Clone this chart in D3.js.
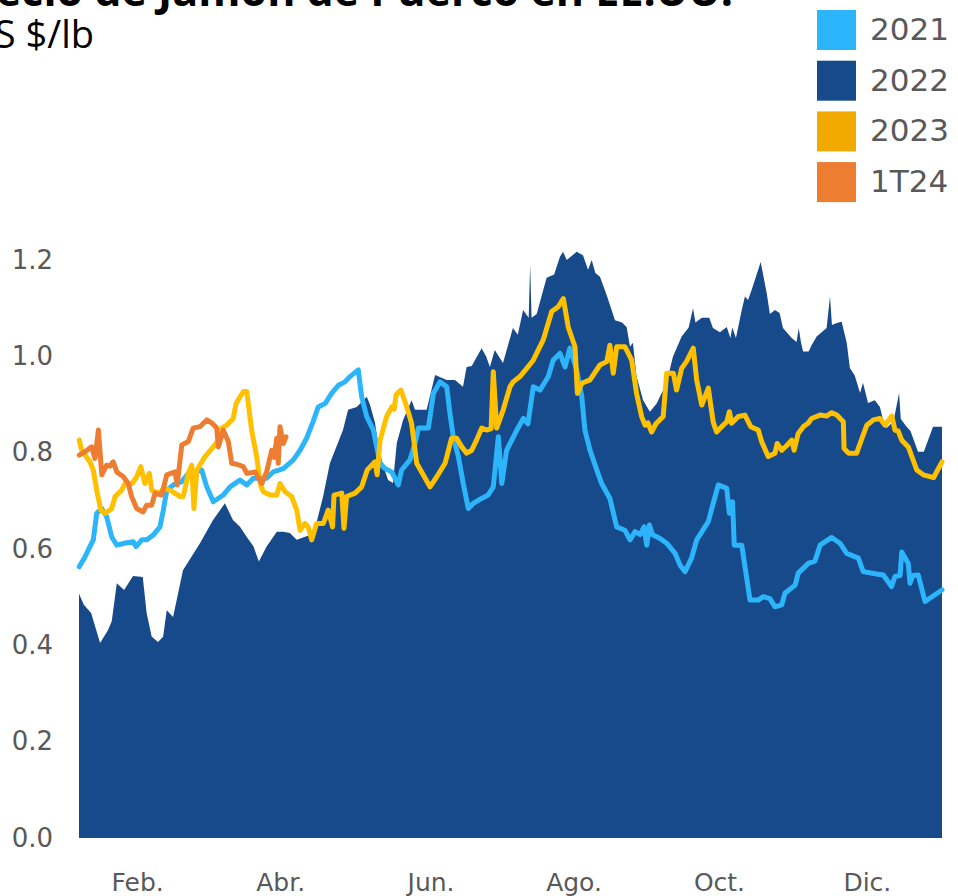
<!DOCTYPE html>
<html lang="es">
<head>
<meta charset="UTF-8">
<title>Precio de Jamón de Puerco en EE.UU.</title>
<script src="https://cdn.jsdelivr.net/npm/d3@7"></script>
<style>
  body { margin: 0; background: #fff; }
  svg { display: block; }
</style>
</head>
<body>
<div id="chart"></div>
<script>
const title = "Precio de Jamón de Puerco en EE.UU.";
const subtitle = "US $/lb";
const seriesNames = ["2021", "2022", "2023", "1T24"];
const legendColors = ["#2cb5fb", "#164a8a", "#f2aa00", "#ed7d31"];
const lineColors = ["#2cb5fb", "#164a8a", "#ffc000", "#ed7d31"];

// x = day of the year
const monthTicks = [32, 91, 153, 212, 272, 333];
const monthLabels = ["Feb.", "Abr.", "Jun.", "Ago.", "Oct.", "Dic."];
const yTicks = [0, 0.2, 0.4, 0.6, 0.8, 1.0, 1.2];

// [day, US$/lb]
const precio2021 = [[8.1,0.563],[10.5,0.584],[12.5,0.605],[13.9,0.619],[15.3,0.674],[17.4,0.684],[19.4,0.667],[21.5,0.625],[23.6,0.608],[27.7,0.613],[30.4,0.615],[31.5,0.605],[33.9,0.619],[36,0.619],[38.6,0.629],[41.4,0.646],[42.8,0.681],[44.2,0.722],[46.9,0.733],[50.4,0.74],[53.1,0.757],[56,0.76],[58.6,0.764],[60.7,0.729],[63.4,0.698],[67.5,0.712],[70.3,0.729],[74.4,0.743],[77.2,0.733],[79.9,0.747],[85.4,0.747],[88.1,0.76],[92.3,0.767],[96.4,0.785],[99.2,0.805],[101.9,0.83],[104.6,0.865],[106.7,0.895],[109.5,0.902],[112.2,0.923],[115,0.94],[117.7,0.947],[119.8,0.958],[123.2,0.972],[124.6,0.916],[126.7,0.875],[129.4,0.847],[132.2,0.778],[134.2,0.767],[137,0.76],[139.7,0.733],[141.1,0.764],[144.5,0.785],[146.6,0.819],[148,0.851],[152.1,0.851],[154.2,0.923],[156.9,0.947],[159.7,0.937],[161,0.882],[162.4,0.833],[164.5,0.792],[166.5,0.736],[168.6,0.684],[170.7,0.695],[174.1,0.705],[176.8,0.712],[178.9,0.729],[181,0.833],[182.4,0.736],[184.4,0.805],[188.6,0.847],[191.3,0.871],[193.2,0.86],[195.4,0.937],[198.2,0.93],[201.6,0.958],[203.6,0.992],[206.4,1.006],[208.5,0.978],[210.5,1.017],[213.3,0.972],[215.4,0.916],[216.7,0.847],[218.8,0.805],[221.6,0.764],[223.6,0.736],[227,0.705],[229.8,0.646],[233.2,0.639],[235.3,0.619],[237.4,0.636],[239.5,0.63],[241.1,0.646],[242.2,0.608],[243.3,0.65],[244.5,0.63],[247.7,0.622],[250.4,0.612],[253.9,0.591],[255.9,0.567],[258,0.553],[260.7,0.581],[262.8,0.619],[267.6,0.657],[270.4,0.709],[271.7,0.733],[275.2,0.726],[276.3,0.674],[277.6,0.698],[278.3,0.608],[281.4,0.608],[284.8,0.494],[288.2,0.494],[290.3,0.501],[293,0.497],[295.1,0.48],[297.9,0.484],[299.2,0.508],[303.4,0.525],[304.7,0.55],[308.8,0.57],[311.6,0.575],[313.7,0.608],[318.5,0.624],[321.9,0.612],[324.7,0.591],[329.5,0.581],[331.5,0.553],[337,0.548],[339.8,0.546],[343.2,0.522],[344.6,0.543],[346.7,0.545],[347.4,0.594],[350.1,0.57],[350.8,0.529],[352,0.545],[354.2,0.546],[357,0.491],[364,0.515]];

const precio2022 = [[8,0.507],[10,0.484],[13,0.467],[16.7,0.405],[20,0.432],[21.5,0.45],[23.6,0.529],[26.6,0.515],[30.3,0.544],[34.3,0.542],[35.9,0.467],[38,0.418],[40.6,0.407],[42.7,0.418],[44.2,0.473],[46.8,0.459],[48.3,0.494],[50.9,0.556],[57.9,0.612],[63.3,0.66],[68.2,0.695],[71.5,0.66],[74.4,0.646],[77.2,0.625],[80,0.605],[82.2,0.574],[85.4,0.605],[89.6,0.636],[92.2,0.636],[95,0.633],[97.8,0.619],[103.3,0.629],[106,0.655],[108.7,0.709],[111.5,0.778],[116.9,0.847],[119,0.889],[122.6,0.895],[126.7,0.916],[128,0.9],[130.1,0.862],[132.2,0.792],[135.5,0.743],[137.5,0.737],[139.1,0.82],[141.7,0.868],[145.2,0.909],[146.6,0.889],[151.4,0.889],[154.9,0.961],[159.7,0.951],[163.1,0.951],[166.4,0.937],[167.9,0.978],[170,0.98],[174.1,1.017],[176,0.999],[177.5,0.978],[179.5,1.013],[182.9,0.986],[187,1.059],[189,1.045],[191.2,1.096],[193.5,1.08],[194.1,1.19],[194.7,1.08],[196.8,1.088],[200.9,1.163],[204,1.17],[206.4,1.207],[207.7,1.217],[209.2,1.2],[213.3,1.217],[215.9,1.21],[218,1.18],[219.5,1.2],[221,1.173],[222.9,1.165],[225.7,1.127],[229.1,1.075],[232,1.07],[233.9,1.061],[235.3,1.02],[236.5,1.028],[238,0.958],[240.7,0.909],[243.5,0.885],[246.3,0.902],[250.4,0.945],[253,0.999],[256.6,1.041],[259.5,1.06],[261.3,1.1],[262.3,1.07],[264.9,1.08],[268,1.08],[269.5,1.059],[272.4,1.05],[275.2,1.061],[276.7,1.038],[277.5,1.06],[279,1.038],[281.4,1.096],[282.7,1.124],[284,1.117],[285.5,1.138],[289.2,1.196],[291.7,1.131],[293,1.088],[295.1,1.096],[297,1.09],[298.4,1.059],[302,1.038],[304,1.03],[304.9,1.059],[305.8,1.03],[306.7,1.01],[309,1.01],[310.2,1.023],[312.3,1.041],[316.4,1.059],[317.8,1.124],[318.6,1.065],[320.6,1.069],[322.6,1.072],[324.7,1.028],[326,0.976],[328,0.96],[330.2,0.924],[331.4,0.945],[333.5,0.903],[336.3,0.909],[338.4,0.895],[339.7,0.868],[341.2,0.851],[344,0.865],[346.3,0.924],[347,0.87],[349.4,0.854],[351,0.845],[354.1,0.802],[356.5,0.802],[360.3,0.854],[364,0.854]];

const precio2023 = [[8.1,0.826],[9.1,0.805],[12.5,0.781],[13.9,0.764],[15.3,0.722],[17,0.681],[18.7,0.674],[21.5,0.684],[22.9,0.709],[25.6,0.722],[27,0.736],[29.9,0.736],[31.8,0.75],[33.5,0.771],[35.2,0.736],[37,0.757],[38,0.722],[40.7,0.716],[43.5,0.726],[45.5,0.722],[49.7,0.709],[51,0.709],[53.1,0.757],[54.5,0.774],[55.4,0.684],[56.6,0.764],[60,0.792],[63.4,0.812],[65.5,0.826],[66.9,0.851],[68.9,0.857],[71.6,0.871],[72.8,0.902],[75.8,0.927],[77.2,0.927],[79.2,0.847],[81.3,0.792],[82.7,0.736],[84,0.719],[86.8,0.712],[89.6,0.712],[90.9,0.736],[93,0.719],[95.7,0.709],[97.8,0.681],[99.2,0.639],[101.2,0.653],[102.6,0.645],[104,0.619],[106,0.653],[108.8,0.653],[110.8,0.681],[112.6,0.646],[113.2,0.712],[116.4,0.716],[117.3,0.643],[118.4,0.709],[121.9,0.716],[124.6,0.729],[126.9,0.764],[130.1,0.781],[131,0.754],[132.2,0.826],[134.9,0.875],[137,0.895],[138,0.89],[138.8,0.92],[140.8,0.93],[143.2,0.895],[145.2,0.861],[147.3,0.778],[150,0.754],[152.8,0.729],[155.6,0.75],[159,0.778],[161.7,0.83],[163.8,0.83],[165.9,0.812],[167.9,0.799],[170,0.805],[172,0.826],[174.1,0.851],[176.2,0.847],[178,0.85],[178.9,0.968],[180.3,0.851],[183,0.889],[185.8,0.937],[187.1,0.947],[189.9,0.958],[192.7,0.975],[195.4,0.992],[199.5,1.034],[203,1.093],[205.7,1.103],[207.8,1.12],[209.8,1.061],[212.6,1.02],[213.6,0.923],[215.4,0.944],[218.8,0.951],[222.9,0.982],[225.7,0.989],[227,1.023],[228.4,0.965],[229.8,1.02],[233.2,1.02],[236,0.992],[238,0.923],[240.1,0.875],[241.5,0.857],[242.7,0.862],[244.2,0.843],[246,0.86],[249,0.875],[250.4,0.965],[253.2,0.965],[254.5,0.93],[256.6,0.975],[258.7,0.99],[261.4,1.017],[262.8,0.951],[264.9,0.899],[267.6,0.934],[269.6,0.864],[271,0.843],[273.1,0.854],[275.2,0.864],[276.3,0.885],[277.2,0.861],[280,0.875],[282.7,0.878],[285.1,0.854],[288.2,0.847],[289.6,0.823],[292.3,0.792],[295.1,0.799],[296,0.819],[297.9,0.805],[300,0.815],[302,0.826],[303,0.805],[304.7,0.84],[306.8,0.854],[308.8,0.861],[310.2,0.871],[313.7,0.878],[316.4,0.876],[318.5,0.883],[320.6,0.878],[323.3,0.864],[323.6,0.809],[325.4,0.799],[328.8,0.799],[330.2,0.819],[333,0.857],[335.7,0.868],[338.4,0.871],[340.5,0.857],[343.3,0.876],[344.6,0.847],[345.9,0.845],[347.4,0.826],[350.1,0.812],[353.6,0.764],[356.3,0.754],[360.5,0.748],[364,0.781]];

const precio1T24 = [[8.1,0.795],[10.5,0.802],[13.2,0.812],[14.6,0.788],[16,0.847],[17.4,0.754],[19.4,0.774],[20.8,0.772],[22.1,0.781],[23.6,0.76],[26.3,0.75],[28.3,0.736],[29.7,0.709],[31.8,0.684],[34.5,0.677],[35.9,0.691],[38,0.691],[39.4,0.716],[42.1,0.712],[44.2,0.754],[47.6,0.76],[48.5,0.733],[50.4,0.816],[53.1,0.823],[55.1,0.851],[57.9,0.854],[60.7,0.868],[62.7,0.862],[64.8,0.851],[65.5,0.812],[67.5,0.847],[69.6,0.823],[71,0.778],[73.1,0.776],[75.8,0.771],[77.2,0.757],[80.6,0.76],[83.4,0.736],[85.4,0.76],[87.5,0.805],[88.5,0.79],[89.6,0.83],[90.2,0.778],[90.9,0.854],[92.3,0.819],[93.4,0.833]];

const width = 958, height = 896;
const plot = { left: 79, right: 942, top: 260, bottom: 838 };
const labelFont = "Verdana, 'DejaVu Sans', sans-serif";
const grey = "#595959";

const svg = d3.select("#chart").append("svg")
    .attr("width", width)
    .attr("height", height);

const x = d3.scaleLinear().domain([8, 364]).range([plot.left, plot.right]);
const y = d3.scaleLinear().domain([0, 1.2]).range([plot.bottom, plot.top]);

// title (runs off the top/left edge in the original)
svg.append("text")
    .attr("x", 733)
    .attr("y", 6)
    .attr("text-anchor", "end")
    .attr("font-family", "'Open Sans', 'Noto Sans', sans-serif")
    .attr("font-weight", "bold")
    .attr("font-size", 43)
    .attr("fill", "#000")
    .text(title);

svg.append("text")
    .attr("x", 94)
    .attr("y", 48)
    .attr("text-anchor", "end")
    .attr("font-family", "'Open Sans', 'Noto Sans', sans-serif")
    .attr("font-size", 38)
    .attr("fill", "#000")
    .text(subtitle);

// 2022 area
const area = d3.area()
    .x(d => x(d[0]))
    .y0(y(0))
    .y1(d => y(d[1]));

svg.append("path")
    .datum(precio2022)
    .attr("d", area)
    .attr("fill", lineColors[1]);

const line = d3.line()
    .x(d => x(d[0]))
    .y(d => y(d[1]));

[[precio2021, lineColors[0]], [precio2023, lineColors[2]], [precio1T24, lineColors[3]]].forEach(([data, color]) => {
    svg.append("path")
        .datum(data)
        .attr("d", line)
        .attr("fill", "none")
        .attr("stroke", color)
        .attr("stroke-width", 5)
        .attr("stroke-linejoin", "round")
        .attr("stroke-linecap", "round");
});

// axes
const yAxis = svg.append("g")
    .attr("transform", "translate(" + plot.left + ",0)")
    .call(d3.axisLeft(y).tickValues(yTicks).tickSize(0).tickPadding(26).tickFormat(d3.format(".1f")));

const xAxis = svg.append("g")
    .attr("transform", "translate(0," + plot.bottom + ")")
    .call(d3.axisBottom(x).tickValues(monthTicks).tickSize(0).tickPadding(35)
        .tickFormat((d, i) => monthLabels[i]));

[yAxis, xAxis].forEach(g => {
    g.select(".domain").remove();
    g.selectAll("text")
        .attr("fill", grey)
        .attr("font-family", labelFont);
});
yAxis.selectAll("text").attr("font-size", 26);
xAxis.selectAll("text").attr("font-size", 25);

// legend
const legend = svg.append("g")
    .attr("transform", "translate(817,10)");

const items = legend.selectAll("g")
    .data(seriesNames)
    .enter()
    .append("g")
    .attr("transform", (d, i) => "translate(0," + (i * 50.7) + ")");

items.append("rect")
    .attr("width", 39)
    .attr("height", 40)
    .attr("fill", (d, i) => legendColors[i]);

items.append("text")
    .attr("x", 53)
    .attr("y", 30)
    .attr("font-family", labelFont)
    .attr("font-size", 31)
    .attr("fill", grey)
    .text(d => d);
</script>
</body>
</html>
